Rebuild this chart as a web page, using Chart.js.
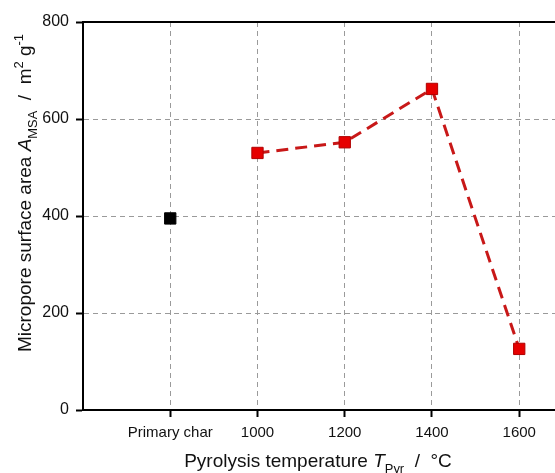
<!DOCTYPE html>
<html>
<head>
<meta charset="utf-8">
<script src="https://cdn.jsdelivr.net/npm/chart.js@4"></script>
<style>
  html, body { margin: 0; padding: 0; background: #fff; }
  #wrap { width: 555px; height: 473px; position: relative; }
</style>
</head>
<body>
<div id="wrap"><canvas id="msaChart"></canvas></div>
<script>
// categories along the x axis (position 1..5)
const categories = ['Primary char', '1000', '1200', '1400', '1600'];
// micropore surface area, m2/g
const primaryCharArea = [395];
const pyrolysisArea = [530, 552, 662, 126];
const yTicks = [0, 200, 400, 600, 800];

const FONT = '"Liberation Sans", Arial, sans-serif';
const gridGrey = '#9a9a9a';

// draw a run of text pieces (normal / italic / sub / sup) starting at x
function drawRich(ctx, parts, x, y, size) {
    let cx = x;
    parts.forEach(p => {
        const s = (p.sub || p.sup) ? size * 0.68 : size;
        ctx.font = (p.italic ? 'italic ' : '') + s + 'px ' + FONT;
        const dy = p.sub ? size * 0.3 : (p.sup ? -size * 0.42 : 0);
        ctx.fillText(p.t, cx, y + dy);
        cx += ctx.measureText(p.t).width;
    });
    return cx - x;
}
function richWidth(ctx, parts, size) {
    let w = 0;
    parts.forEach(p => {
        const s = (p.sub || p.sup) ? size * 0.68 : size;
        ctx.font = (p.italic ? 'italic ' : '') + s + 'px ' + FONT;
        w += ctx.measureText(p.t).width;
    });
    return w;
}

const yTitle = [
    { t: 'Micropore surface area ' }, { t: 'A', italic: true }, { t: 'MSA', sub: true },
    { t: '  /  m' }, { t: '2', sup: true }, { t: ' g' }, { t: '-1', sup: true }
];
const xTitle = [
    { t: 'Pyrolysis temperature ' }, { t: 'T', italic: true }, { t: 'Pyr', sub: true },
    { t: '  /  °C' }
];

const framePlugin = {
    id: 'frame',
    afterDraw(chart) {
        const { ctx, chartArea: a } = chart;
        ctx.save();
        // top border
        ctx.strokeStyle = '#000';
        ctx.lineWidth = 2;
        ctx.beginPath();
        ctx.moveTo(a.left - 1, a.top);
        ctx.lineTo(a.right, a.top);
        ctx.stroke();

        ctx.fillStyle = '#111';
        ctx.textBaseline = 'alphabetic';
        // x axis title
        const size = 19;
        const wx = richWidth(ctx, xTitle, size);
        drawRich(ctx, xTitle, 318 - wx / 2, 467, size);
        // y axis title, rotated
        const wy = richWidth(ctx, yTitle, size);
        ctx.translate(31, 193);
        ctx.rotate(-Math.PI / 2);
        drawRich(ctx, yTitle, -wy / 2, 0, size);
        ctx.restore();
    }
};

new Chart(document.getElementById('msaChart'), {
    type: 'line',
    data: {
        datasets: [{
            label: 'Pyrolysis',
            data: pyrolysisArea.map((v, i) => ({ x: i + 2, y: v })),
            borderColor: '#c81818',
            borderWidth: 3,
            borderDash: [12, 7],
            pointStyle: 'rect',
            pointRadius: 8,
            pointBackgroundColor: '#e60000',
            pointBorderColor: '#b00000',
            pointBorderWidth: 1,
            tension: 0
        }, {
            label: 'Primary char',
            data: primaryCharArea.map(v => ({ x: 1, y: v })),
            showLine: false,
            pointStyle: 'rect',
            pointRadius: 8,
            pointBackgroundColor: '#000',
            pointBorderColor: '#000',
            pointBorderWidth: 1
        }]
    },
    options: {
        responsive: true,
        maintainAspectRatio: false,
        animation: false,
        layout: { autoPadding: false, padding: { top: 22, right: 0, left: 0, bottom: 0 } },
        plugins: {
            legend: { display: false },
            tooltip: { enabled: false }
        },
        scales: {
            x: {
                type: 'linear',
                min: 0,
                max: 5.41,
                afterBuildTicks: s => { s.ticks = categories.map((c, i) => ({ value: i + 1 })); },
                afterFit: s => { s.height = 63; s.paddingRight = 0; s.paddingLeft = 0; },
                ticks: {
                    color: '#111',
                    font: { family: FONT, size: 15 },
                    padding: 7,
                    autoSkip: false,
                    maxRotation: 0,
                    callback: v => categories[v - 1]
                },
                grid: {
                    color: gridGrey,
                    lineWidth: 1,
                    tickColor: '#000',
                    tickLength: 7,
                    tickWidth: 2,
                    tickBorderDash: []
                },
                border: { color: '#000', width: 2, dash: [5, 4] }
            },
            y: {
                min: 0,
                max: 800,
                afterBuildTicks: s => { s.ticks = yTicks.map(v => ({ value: v })); },
                afterFit: s => { s.width = 83; s.paddingTop = 0; s.paddingBottom = 0; },
                ticks: {
                    color: '#111',
                    font: { family: FONT, size: 16 },
                    padding: 7
                },
                grid: {
                    color: ctx => (ctx.tick && (ctx.tick.value === 0 || ctx.tick.value === 800)) ? 'rgba(0,0,0,0)' : gridGrey,
                    lineWidth: 1,
                    tickColor: '#000',
                    tickLength: 7,
                    tickWidth: 2,
                    tickBorderDash: []
                },
                border: { color: '#000', width: 2, dash: [5, 4] }
            }
        }
    },
    plugins: [framePlugin]
});
</script>
</body>
</html>
